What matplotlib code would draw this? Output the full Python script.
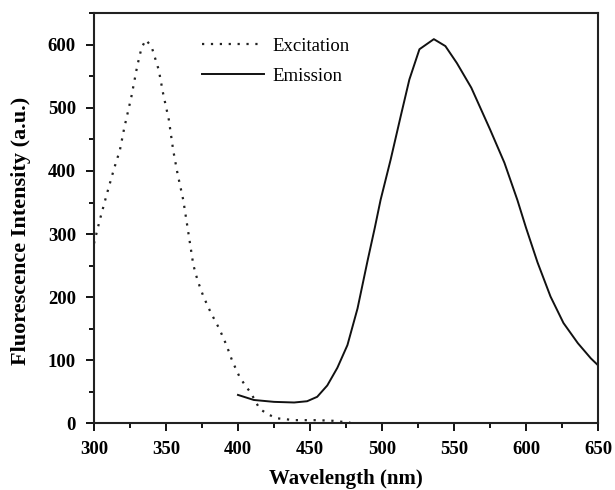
import matplotlib
matplotlib.use("Agg")
import matplotlib.pyplot as plt
from matplotlib.ticker import MultipleLocator

exc_wl = [300, 304, 309, 314, 318, 321, 326, 330, 333, 336, 340, 345, 348, 352, 355, 358,
          362, 365, 369, 372, 376, 381, 387, 392, 396, 401, 405, 409, 415, 421, 427, 439,
          455, 466, 478]
exc_int = [285, 322, 364, 404, 433, 468, 518, 566, 595, 608, 597, 560, 523, 481, 433, 396,
           354, 310, 251, 226, 201, 176, 150, 124, 99, 74, 60, 48, 23, 14, 8, 5,
           5, 4, 1]

em_wl = [400, 411, 425, 439, 448, 455, 462, 469, 476, 483, 490, 495, 499, 506, 513, 519,
         526, 536, 544, 552, 562, 575, 585, 594, 600, 608, 617, 626, 636, 645, 650]
em_int = [45, 37, 34, 33, 35, 42, 60, 88, 124, 182, 258, 310, 354, 418, 487, 545,
          593, 609, 598, 571, 532, 466, 413, 354, 310, 255, 201, 159, 127, 103, 92]

x_ticks = [300, 350, 400, 450, 500, 550, 600, 650]
y_ticks = [0, 100, 200, 300, 400, 500, 600]

plt.rcParams['font.family'] = ['Liberation Serif', 'DejaVu Serif']

fig = plt.figure(figsize=(6.15, 4.9), dpi=100)
ax = fig.add_axes([0.1528, 0.1361, 0.8196, 0.8368])

ax.plot(exc_wl, exc_int, color='#222222', linestyle=(0, (1, 3)), lw=1.6, label='Excitation')
ax.plot(em_wl, em_int, color='#111111', linestyle='-', lw=1.4, label='Emission')

ax.set_xlim(300, 650)
ax.set_ylim(0, 650)
ax.set_xticks(x_ticks)
ax.set_yticks(y_ticks)
ax.xaxis.set_minor_locator(MultipleLocator(25))
ax.yaxis.set_minor_locator(MultipleLocator(50))
ax.tick_params(which='major', direction='out', length=6, width=1.3, labelsize=13.5, pad=7)
ax.tick_params(which='minor', direction='out', length=3.5, width=1.3)
for lab in ax.get_xticklabels() + ax.get_yticklabels():
    lab.set_fontweight('bold')
for s in ax.spines.values():
    s.set_linewidth(1.5)
    s.set_color('#222222')

ax.set_xlabel('Wavelength (nm)', fontsize=15, fontweight='bold', labelpad=8)
ax.set_ylabel('Fluorescence Intensity (a.u.)', fontsize=16, fontweight='bold')
ax.yaxis.set_label_coords(-0.125, 0.47)

ax.legend(loc='upper left', bbox_to_anchor=(0.214, 0.94), frameon=False, fontsize=13.5,
          handlelength=3.3, handletextpad=0.45, labelspacing=0.66, borderpad=0,
          borderaxespad=0)

fig.savefig('out.png', dpi=100)
